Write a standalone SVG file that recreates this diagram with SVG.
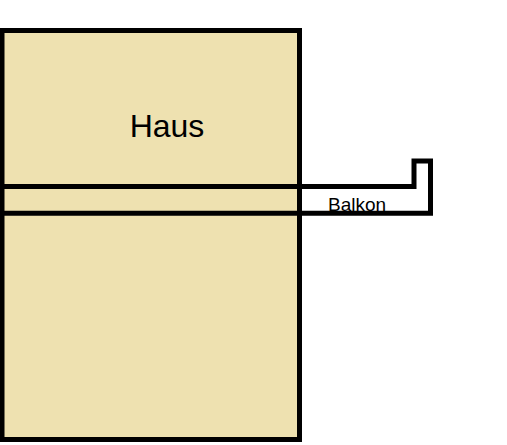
<svg xmlns="http://www.w3.org/2000/svg" width="507" height="445" viewBox="0 0 507 445">
<style>
.outline{stroke:#000;stroke-width:5;stroke-linejoin:miter}
.lbl{font-family:"Liberation Sans",Arial,sans-serif;fill:#000}
</style>
<rect width="507" height="445" fill="#fff"/>
<g id="haus">
<rect class="outline" x="2" y="30.5" width="297.5" height="409" fill="#eee1b0"/>
<text class="lbl" x="167" y="137" font-size="32" text-anchor="middle">Haus</text>
</g>
<g id="balkon">
<text class="lbl" x="328" y="210.5" font-size="19">Balkon</text>
<path class="outline" fill="none" d="M-3,186.5 H414 V161 H430.5 V213.2 H-3"/>
</g>
</svg>
